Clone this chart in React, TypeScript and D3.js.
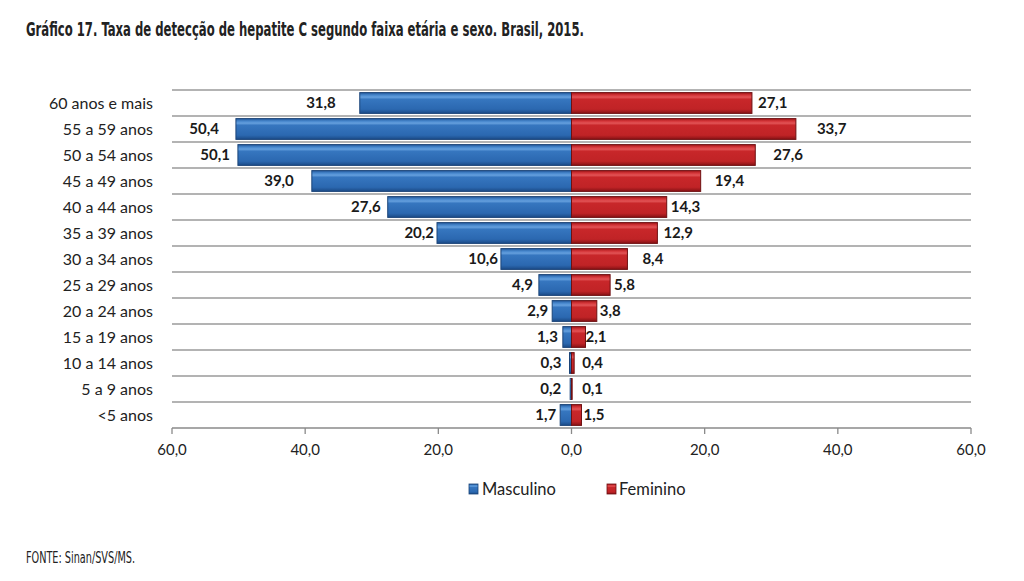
import React from "react";
import * as d3 from "d3";

const categories = ["60 anos e mais", "55 a 59 anos", "50 a 54 anos", "45 a 49 anos", "40 a 44 anos", "35 a 39 anos", "30 a 34 anos", "25 a 29 anos", "20 a 24 anos", "15 a 19 anos", "10 a 14 anos", "5 a 9 anos", "<5 anos"];
const masculino = [31.8, 50.4, 50.1, 39.0, 27.6, 20.2, 10.6, 4.9, 2.9, 1.3, 0.3, 0.2, 1.7];
const feminino = [27.1, 33.7, 27.6, 19.4, 14.3, 12.9, 8.4, 5.8, 3.8, 2.1, 0.4, 0.1, 1.5];
const tickValues = [-60, -40, -20, 0, 20, 40, 60];
// label gaps (px) between bar end and value label, as placed in the original
const mascLabelGap = [24, 17, 8, 18, 7, 3, 3, 6, 4, 5, 8, 9, 4];
const femLabelGap = [6, 21, 18, 14, 4, 6, 15, 4, 3, 0, 8, 10, 2];

const W = 1024, H = 581;
const left = 172, right = 971, top = 90, bottom = 428;

const fmt = (v: number) => Math.abs(v).toFixed(1).replace(".", ",");

export default function App() {
  const x = d3.scaleLinear().domain([-60, 60]).range([left, right]);
  const y = d3.scaleBand<string>().domain(categories).range([top, bottom]).paddingInner(0.2).paddingOuter(0.1);
  const step = y.step();
  const labelFont = "Lato, 'Open Sans', sans-serif";
  const titleFont = "'Liberation Sans Narrow', 'DejaVu Sans Condensed', sans-serif";
  return (
    <svg width={W} height={H} style={{ position: "absolute", left: 0, top: 0, background: "#fff" }}>
      <defs>
        <linearGradient id="gb" x1="0" y1="0" x2="0" y2="1">
          <stop offset="0" stopColor="#24599a" />
          <stop offset="0.12" stopColor="#4686cc" />
          <stop offset="0.22" stopColor="#65a0de" />
          <stop offset="0.32" stopColor="#3676bf" />
          <stop offset="0.8" stopColor="#2b68b0" />
          <stop offset="1" stopColor="#1b4a86" />
        </linearGradient>
        <linearGradient id="gr" x1="0" y1="0" x2="0" y2="1">
          <stop offset="0" stopColor="#a01619" />
          <stop offset="0.12" stopColor="#d43538" />
          <stop offset="0.22" stopColor="#e25456" />
          <stop offset="0.32" stopColor="#c8272a" />
          <stop offset="0.8" stopColor="#c02326" />
          <stop offset="1" stopColor="#861215" />
        </linearGradient>
      </defs>
      <text x={26} y={36} fontFamily={titleFont} fontWeight="bold" fontSize={20} fill="#222" textLength={558} lengthAdjust="spacingAndGlyphs">
        Gráfico 17. Taxa de detecção de hepatite C segundo faixa etária e sexo. Brasil, 2015.
      </text>
      {/* row separators */}
      {d3.range(categories.length).map((i) => (
        <line key={"g" + i} x1={left} x2={right} y1={top + i * step} y2={top + i * step} stroke="#9a9a9a" strokeWidth={1.3} />
      ))}
      {/* category labels */}
      {categories.map((c) => (
        <text key={"c" + c} x={153} y={(y(c) as number) + y.bandwidth() / 2} dy="0.35em" textAnchor="end" fontFamily={labelFont} fontSize={16} fill="#222">
          {c}
        </text>
      ))}
      {/* bars */}
      {categories.map((c, i) => {
        const by = y(c) as number;
        const bh = y.bandwidth();
        const xm = x(-masculino[i]);
        const xf = x(feminino[i]);
        const x0 = x(0);
        return (
          <g key={"b" + c}>
            <rect x={xm} y={by} width={x0 - xm} height={bh} fill="url(#gb)" stroke="#1b4478" strokeWidth={1} />
            <rect x={x0} y={by} width={xf - x0} height={bh} fill="url(#gr)" stroke="#6e1012" strokeWidth={1} />
            <text x={xm - mascLabelGap[i]} y={by + bh / 2} dy="0.36em" textAnchor="end" fontFamily={labelFont} fontWeight="bold" fontSize={15} fill="#1a1a1a">
              {fmt(masculino[i])}
            </text>
            <text x={xf + femLabelGap[i]} y={by + bh / 2} dy="0.36em" textAnchor="start" fontFamily={labelFont} fontWeight="bold" fontSize={15} fill="#1a1a1a">
              {fmt(feminino[i])}
            </text>
          </g>
        );
      })}
      {/* axis */}
      <line x1={left} x2={right} y1={bottom} y2={bottom} stroke="#8a8a8a" strokeWidth={1.3} />
      {tickValues.map((t) => (
        <g key={"t" + t}>
          <line x1={x(t)} x2={x(t)} y1={bottom} y2={bottom + 6} stroke="#8a8a8a" strokeWidth={1.3} />
          <text x={x(t)} y={450} dy="0.35em" textAnchor="middle" fontFamily={labelFont} fontSize={15} fill="#222">
            {fmt(t)}
          </text>
        </g>
      ))}
      {/* legend */}
      <rect x={469} y={484} width={9} height={10} fill="url(#gb)" stroke="#1b4478" strokeWidth={0.8} />
      <text x={482} y={489} dy="0.35em" fontFamily={labelFont} fontSize={16.5} fill="#222">Masculino</text>
      <rect x={607} y={484} width={9} height={10} fill="url(#gr)" stroke="#6e1012" strokeWidth={0.8} />
      <text x={619} y={489} dy="0.35em" fontFamily={labelFont} fontSize={16.5} fill="#222">Feminino</text>
      <text x={26} y={563} fontFamily={titleFont} fontSize={15} fill="#222" textLength={109} lengthAdjust="spacingAndGlyphs">FONTE: Sinan/SVS/MS.</text>
    </svg>
  );
}
